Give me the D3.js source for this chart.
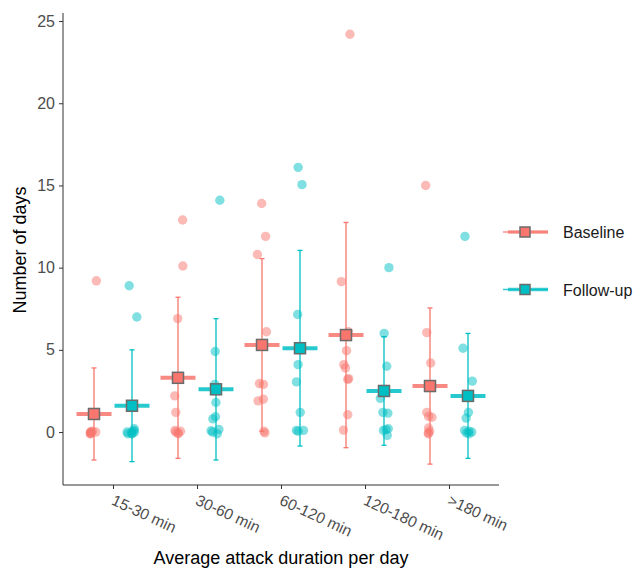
<!DOCTYPE html>
<html>
<head>
<meta charset="utf-8">
<script src="https://cdn.jsdelivr.net/npm/d3@7"></script>
<style>
  body { margin: 0; background: #fff; }
  text { font-family: "Liberation Sans", Arial, sans-serif; }
</style>
</head>
<body>
<svg id="mainSVG" width="640" height="570"></svg>
<script>
// data
const categories = ["15-30 min", "30-60 min", "60-120 min", "120-180 min", ">180 min"]
const groups = ["Baseline", "Follow-up"]
const colors = ["#F8766D", "#00BFC4"]

const baselineMean = [1.1, 3.3, 5.3, 5.9, 2.8]
const baselineSd = [2.8, 4.9, 5.25, 6.85, 4.75]
const followMean = [1.6, 2.6, 5.1, 2.5, 2.2]
const followSd = [3.4, 4.3, 5.95, 3.3, 3.8]

const baselinePoints = [
    [9.2, 0.05, 0, 0, 0, -0.05, -0.1, -0.1],
    [12.9, 10.1, 6.9, 2.2, 1.2, 0.1, 0.05, 0, -0.05, -0.1],
    [13.9, 11.9, 10.8, 6.1, 2.95, 2.9, 2.0, 1.9, 0.05, -0.05],
    [24.2, 9.15, 6.1, 4.95, 4.1, 3.9, 3.25, 3.2, 1.05, 0.12],
    [15.0, 6.05, 4.2, 1.2, 0.95, 0.9, 0.25, 0.05, -0.05, -0.1]
]
const followPoints = [
    [8.9, 7.0, 0.2, 0.1, 0, 0, 0, -0.1, -0.1, -0.1],
    [14.1, 4.9, 2.9, 1.8, 0.93, 0.8, 0.16, 0.08, 0, -0.1],
    [16.1, 15.05, 7.15, 5.0, 4.1, 3.05, 1.2, 0.1, 0.1, 0.05],
    [10.0, 6.0, 4.0, 2.05, 1.2, 1.15, 0.2, 0.15, 0.1, -0.2],
    [11.9, 5.1, 3.1, 1.2, 0.85, 0.1, 0.05, 0, -0.05, -0.1]
]

const yTicks = [0, 5, 10, 15, 20, 25]

const svg = d3.select("#mainSVG")
const margin = {left: 63, top: 13, right: 141, bottom: 85}
const W = 640, H = 570

const x = d3.scalePoint().domain(categories).range([113, 449])
const y = d3.scaleLinear().domain([-3.22, 25.49]).range([H - margin.bottom, margin.top])
const dodge = 19

const series = [
    {name: groups[0], color: colors[0], mean: baselineMean, sd: baselineSd, pts: baselinePoints, off: -dodge},
    {name: groups[1], color: colors[1], mean: followMean, sd: followSd, pts: followPoints, off: dodge}
]

// jitter like geom_jitter, fixed seed
const rnd = d3.randomUniform.source(d3.randomLcg(0.42))(-5, 5)

const plot = svg.append("g")

// points
series.forEach(s => {
    s.pts.forEach((arr, i) => {
        plot.selectAll(null).data(arr).enter().append("circle")
            .attr("cx", () => x(categories[i]) + s.off + rnd())
            .attr("cy", d => y(d))
            .attr("r", 4.7)
            .attr("fill", s.color)
            .attr("fill-opacity", 0.5)
    })
})

// error bars, mean bars, squares
series.forEach(s => {
    const g = plot.append("g")
    categories.forEach((c, i) => {
        const cx = x(c) + s.off
        const lo = y(s.mean[i] - s.sd[i]), hi = y(s.mean[i] + s.sd[i])
        g.append("line").attr("x1", cx).attr("x2", cx).attr("y1", lo).attr("y2", hi)
            .attr("stroke", s.color).attr("stroke-width", 1.3)
        ;[lo, hi].forEach(v => g.append("line")
            .attr("x1", cx - 2.5).attr("x2", cx + 2.5).attr("y1", v).attr("y2", v)
            .attr("stroke", s.color).attr("stroke-width", 1.3))
        g.append("line").attr("x1", cx - 17.5).attr("x2", cx + 17.5)
            .attr("y1", y(s.mean[i])).attr("y2", y(s.mean[i]))
            .attr("stroke", s.color).attr("stroke-width", 4).attr("stroke-opacity", 0.85)
        g.append("rect").attr("x", cx - 5.5).attr("y", y(s.mean[i]) - 5.5)
            .attr("width", 11).attr("height", 11)
            .attr("fill", s.color).attr("stroke", "#6b6b6b").attr("stroke-width", 1.5)
    })
})

// axes
const axisColor = "#333"
const yAxis = svg.append("g").attr("transform", `translate(${margin.left},0)`)
    .call(d3.axisLeft(y).tickValues(yTicks).tickSize(4).tickPadding(4))
const xAxis = svg.append("g").attr("transform", `translate(0,${H - margin.bottom})`)
    .call(d3.axisBottom(x).tickSize(4).tickPadding(4))
xAxis.select(".domain").attr("d", `M${margin.left},0H${W - margin.right}`)
yAxis.select(".domain").attr("d", `M0,${margin.top}V${H - margin.bottom}`)
;[xAxis, yAxis].forEach(a => {
    a.select(".domain").attr("stroke", axisColor).attr("stroke-width", 1)
    a.selectAll(".tick line").attr("stroke", axisColor).attr("stroke-width", 1)
    a.selectAll(".tick text").attr("fill", "#4d4d4d")
        .style("font-family", "Liberation Sans, Arial, sans-serif")
})
yAxis.selectAll(".tick text").style("font-size", "16px")
xAxis.selectAll(".tick text")
    .style("font-size", "15.5px")
    .attr("text-anchor", "start")
    .attr("dy", null).attr("y", 0)
    .attr("transform", "translate(-3,19) rotate(25)")

// axis titles
svg.append("text").attr("x", 281).attr("y", 564).attr("text-anchor", "middle")
    .style("font-size", "18px").text("Average attack duration per day")
svg.append("text").attr("transform", "translate(26,250) rotate(-90)").attr("text-anchor", "middle")
    .style("font-size", "18px").text("Number of days")

// legend
const legend = svg.append("g")
series.forEach((s, i) => {
    const ly = 232 + i * 57.5
    legend.append("line").attr("x1", 503).attr("x2", 548).attr("y1", ly).attr("y2", ly)
        .attr("stroke", s.color).attr("stroke-width", 1.5).attr("stroke-opacity", 0.8)
    legend.append("line").attr("x1", 508).attr("x2", 548).attr("y1", ly).attr("y2", ly)
        .attr("stroke", s.color).attr("stroke-width", 3.5).attr("stroke-opacity", 0.75)
    legend.append("rect").attr("x", 520).attr("y", ly - 5).attr("width", 10).attr("height", 10)
        .attr("fill", s.color).attr("stroke", "#6b6b6b").attr("stroke-width", 1.5)
    legend.append("text").attr("x", 563).attr("y", ly + 6)
        .style("font-size", "16px").attr("fill", "#1a1a1a").text(s.name)
})
</script>
</body>
</html>
